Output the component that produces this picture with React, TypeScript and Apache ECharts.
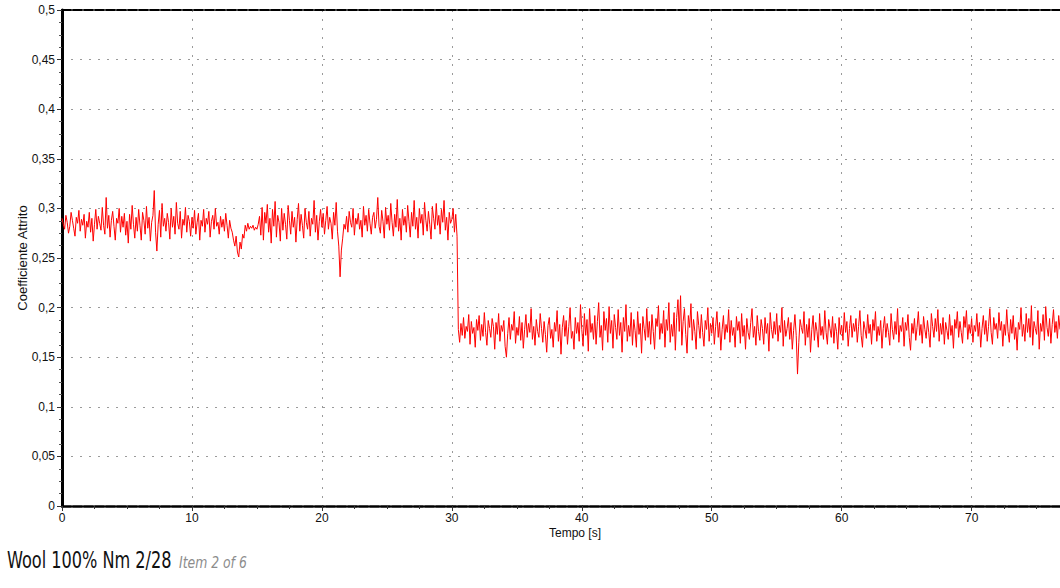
import React, { useEffect, useRef } from "react";
import * as echarts from "echarts";

// sampling step of the recorded signal, seconds
const SAMPLE_STEP = 0.1;

// friction coefficient, first phase (t = 0 .. 30.4 s), one row per second
const PHASE_A: number[] = [
  0.290, 0.284, 0.279, 0.293, 0.286, 0.275, 0.282, 0.296, 0.288, 0.280,
  0.272, 0.291, 0.285, 0.298, 0.277, 0.289, 0.283, 0.294, 0.270, 0.287,
  0.281, 0.296, 0.276, 0.290, 0.267, 0.284, 0.299, 0.279, 0.292, 0.285,
  0.278, 0.301, 0.283, 0.274, 0.311, 0.280, 0.293, 0.271, 0.288, 0.297,
  0.282, 0.268, 0.290, 0.285, 0.300, 0.276, 0.292, 0.281, 0.295, 0.273,
  0.287, 0.265, 0.294, 0.279, 0.303, 0.284, 0.270, 0.291, 0.277, 0.299,
  0.283, 0.268, 0.296, 0.288, 0.274, 0.302, 0.280, 0.291, 0.267, 0.286,
  0.293, 0.318, 0.276, 0.257, 0.284, 0.298, 0.271, 0.305, 0.282, 0.290,
  0.277, 0.295, 0.286, 0.269, 0.300, 0.281, 0.292, 0.274, 0.306, 0.285,
  0.279, 0.297, 0.270, 0.289, 0.283, 0.301, 0.276, 0.293, 0.287, 0.272,
  0.291, 0.280, 0.298, 0.274, 0.286, 0.295, 0.268, 0.288, 0.282, 0.299,
  0.276, 0.290, 0.284, 0.297, 0.271, 0.287, 0.293, 0.279, 0.300, 0.282,
  0.286, 0.274, 0.292, 0.281, 0.289, 0.277, 0.295, 0.283, 0.270, 0.288,
  0.280, 0.276, 0.268, 0.262, 0.272, 0.256, 0.251, 0.266, 0.259, 0.274,
  0.270, 0.283, 0.277, 0.285, 0.279, 0.282, 0.280, 0.283, 0.278, 0.281,
  0.279, 0.284, 0.292, 0.273, 0.301, 0.268, 0.296, 0.285, 0.304, 0.276,
  0.290, 0.265, 0.299, 0.282, 0.307, 0.271, 0.293, 0.286, 0.267, 0.300,
  0.278, 0.295, 0.284, 0.269, 0.303, 0.288, 0.274, 0.297, 0.281, 0.291,
  0.266, 0.289, 0.305, 0.277, 0.294, 0.283, 0.270, 0.300, 0.286, 0.279,
  0.297, 0.272, 0.290, 0.284, 0.308, 0.276, 0.293, 0.268, 0.287, 0.299,
  0.281, 0.295, 0.274, 0.288, 0.302, 0.279, 0.291, 0.285, 0.269, 0.296,
  0.283, 0.306, 0.277, 0.262, 0.231, 0.258, 0.270, 0.284, 0.279, 0.292,
  0.276, 0.297, 0.286, 0.281, 0.300, 0.273, 0.290, 0.284, 0.295, 0.279,
  0.288, 0.271, 0.302, 0.283, 0.293, 0.277, 0.299, 0.285, 0.274, 0.291,
  0.296, 0.280, 0.289, 0.311, 0.282, 0.275, 0.298, 0.287, 0.270, 0.301,
  0.284, 0.293, 0.278, 0.305, 0.286, 0.272, 0.294, 0.281, 0.309, 0.277,
  0.290, 0.268, 0.299, 0.283, 0.292, 0.276, 0.303, 0.287, 0.271, 0.296,
  0.282, 0.308, 0.279, 0.291, 0.270, 0.300, 0.285, 0.294, 0.273, 0.306,
  0.288, 0.277, 0.297, 0.284, 0.269, 0.302, 0.290, 0.279, 0.305, 0.283,
  0.293, 0.274, 0.299, 0.286, 0.308, 0.278, 0.291, 0.268, 0.296, 0.285,
  0.289, 0.300, 0.276, 0.294, 0.272,
];

// friction coefficient, second phase (t = 30.5 .. 76.8 s)
const PHASE_B: number[] = [
  0.178, 0.165, 0.184, 0.172, 0.190,
  0.169, 0.181, 0.176, 0.193, 0.163, 0.186, 0.174, 0.180, 0.160, 0.188,
  0.177, 0.192, 0.167, 0.183, 0.171, 0.195, 0.175, 0.162, 0.187, 0.179,
  0.170, 0.189, 0.181, 0.158, 0.185, 0.173, 0.194, 0.166, 0.182, 0.176,
  0.187, 0.161, 0.150, 0.174, 0.190, 0.168, 0.183, 0.177, 0.196, 0.164,
  0.180, 0.172, 0.191, 0.167, 0.185, 0.159, 0.178, 0.193, 0.170, 0.184,
  0.175, 0.199, 0.168, 0.181, 0.162, 0.188, 0.176, 0.170, 0.194, 0.179,
  0.165, 0.186, 0.173, 0.155, 0.182, 0.190, 0.169, 0.178, 0.160, 0.185,
  0.176, 0.197, 0.166, 0.183, 0.153, 0.180, 0.192, 0.171, 0.187, 0.163,
  0.181, 0.200, 0.169, 0.176, 0.158, 0.190, 0.174, 0.185, 0.166, 0.203,
  0.178, 0.161, 0.194, 0.172, 0.188, 0.156, 0.199, 0.175, 0.184, 0.168,
  0.192, 0.163, 0.186, 0.205, 0.170, 0.182, 0.157, 0.196, 0.177, 0.189,
  0.165, 0.201, 0.174, 0.187, 0.159, 0.193, 0.180, 0.168, 0.198, 0.172,
  0.185, 0.155, 0.190, 0.176, 0.203, 0.166, 0.182, 0.171, 0.195, 0.162,
  0.188, 0.177, 0.160, 0.196, 0.173, 0.184, 0.154, 0.191, 0.179, 0.167,
  0.199, 0.170, 0.186, 0.163, 0.193, 0.176, 0.158, 0.189, 0.181, 0.202,
  0.168, 0.184, 0.174, 0.197, 0.160, 0.188, 0.177, 0.205, 0.165, 0.183,
  0.171, 0.195, 0.157, 0.190, 0.208, 0.176, 0.212, 0.162, 0.186, 0.199,
  0.173, 0.154, 0.192, 0.180, 0.204, 0.167, 0.188, 0.176, 0.158, 0.196,
  0.182, 0.169, 0.193, 0.175, 0.161, 0.187, 0.178, 0.200, 0.166, 0.184,
  0.174, 0.190, 0.163, 0.181, 0.196, 0.170, 0.185, 0.157, 0.178, 0.192,
  0.168, 0.183, 0.175, 0.198, 0.165, 0.187, 0.172, 0.180, 0.160, 0.191,
  0.177, 0.186, 0.164, 0.194, 0.171, 0.182, 0.158, 0.189, 0.175, 0.168,
  0.185, 0.199, 0.170, 0.181, 0.162, 0.192, 0.176, 0.167, 0.188, 0.179,
  0.163, 0.190, 0.174, 0.184, 0.156, 0.195, 0.178, 0.169, 0.186, 0.173,
  0.194, 0.166, 0.182, 0.175, 0.200, 0.161, 0.187, 0.171, 0.179, 0.190,
  0.168, 0.185, 0.158, 0.177, 0.193, 0.172, 0.133, 0.165, 0.188, 0.180,
  0.174, 0.196, 0.162, 0.183, 0.170, 0.189, 0.155, 0.178, 0.192, 0.167,
  0.185, 0.176, 0.160, 0.194, 0.172, 0.181, 0.168, 0.197, 0.175, 0.163,
  0.188, 0.179, 0.170, 0.191, 0.164, 0.184, 0.176, 0.158, 0.190, 0.173,
  0.182, 0.167, 0.195, 0.175, 0.186, 0.161, 0.179, 0.192, 0.170, 0.184,
  0.176, 0.189, 0.165, 0.181, 0.197, 0.172, 0.160, 0.186, 0.178, 0.169,
  0.193, 0.174, 0.183, 0.163, 0.188, 0.177, 0.196, 0.166, 0.181, 0.172,
  0.187, 0.159, 0.179, 0.191, 0.170, 0.184, 0.175, 0.162, 0.194, 0.178,
  0.168, 0.186, 0.173, 0.199, 0.165, 0.182, 0.176, 0.190, 0.161, 0.185,
  0.177, 0.193, 0.170, 0.157, 0.184, 0.174, 0.189, 0.167, 0.180, 0.196,
  0.172, 0.183, 0.164, 0.191, 0.178, 0.169, 0.187, 0.175, 0.160, 0.194,
  0.181, 0.170, 0.189, 0.176, 0.198, 0.166, 0.184, 0.173, 0.190, 0.163,
  0.185, 0.177, 0.168, 0.193, 0.172, 0.182, 0.159, 0.188, 0.179, 0.196,
  0.170, 0.186, 0.175, 0.164, 0.191, 0.180, 0.197, 0.168, 0.183, 0.174,
  0.189, 0.165, 0.182, 0.176, 0.194, 0.171, 0.185, 0.160, 0.179, 0.192,
  0.173, 0.187, 0.166, 0.181, 0.199, 0.175, 0.163, 0.190, 0.178, 0.184,
  0.169, 0.195, 0.177, 0.186, 0.161, 0.183, 0.172, 0.198, 0.176, 0.165,
  0.188, 0.174, 0.192, 0.168, 0.180, 0.157, 0.185, 0.178, 0.200, 0.171,
  0.183, 0.166, 0.194, 0.175, 0.189, 0.170, 0.202, 0.162, 0.186, 0.179,
  0.173, 0.197, 0.158, 0.184, 0.176, 0.193, 0.167, 0.201, 0.180, 0.171,
  0.189, 0.164, 0.183, 0.198, 0.175, 0.186, 0.169, 0.192, 0.178,
];

const X_MIN = 0;
const X_MAX = 76.8;
const X_INTERVAL = 10;
const Y_MIN = 0;
const Y_MAX = 0.5;
const Y_INTERVAL = 0.05;

const X_NAME = "Tempo [s]";
const Y_NAME = "Coefficiente Attrito";
const CAPTION = "Wool 100% Nm 2/28";
const CAPTION_SUB = "Item 2 of 6";

export default function App() {
  const ref = useRef<HTMLDivElement>(null);

  useEffect(() => {
    if (!ref.current) return;
    const chart = echarts.init(ref.current, null, { renderer: "svg" });
    const values = [...PHASE_A, ...PHASE_B];
    const data = values.map((v, i) => [+(i * SAMPLE_STEP).toFixed(2), v]);
    const grey = "#9a9a9a";
    const font = "'Liberation Sans', Arial, sans-serif";

    chart.setOption({
      animation: false,
      backgroundColor: "#ffffff",
      grid: { left: 62, right: 0, top: 10, bottom: 82, containLabel: false },
      xAxis: [
        {
          type: "value",
          min: X_MIN,
          max: X_MAX,
          interval: X_INTERVAL,
          axisLine: {
            show: true,
            onZero: false,
            lineStyle: { color: "#000", width: 2.5, type: [9, 2] },
          },
          axisTick: { show: true, length: 5, lineStyle: { color: "#333", width: 1 } },
          minorTick: { show: true, splitNumber: 4, length: 3, lineStyle: { color: "#333", width: 1 } },
          axisLabel: {
            color: "#111",
            fontSize: 12,
            fontFamily: font,
            margin: 6,
            showMaxLabel: false,
            formatter: (v: number) => String(v),
          },
          splitLine: {
            show: true,
            lineStyle: { color: grey, width: 1, type: [2, 7] },
          },
        },
        {
          type: "value",
          position: "top",
          min: X_MIN,
          max: X_MAX,
          axisLine: {
            show: true,
            onZero: false,
            lineStyle: { color: "#000", width: 2, type: [9, 2] },
          },
          axisTick: { show: false },
          axisLabel: { show: false },
          splitLine: { show: false },
        },
      ],
      yAxis: {
        type: "value",
        min: Y_MIN,
        max: Y_MAX,
        interval: Y_INTERVAL,
        name: Y_NAME,
        nameLocation: "middle",
        nameGap: 33,
        nameMoveOverlap: false,
        nameTextStyle: { color: "#111", fontSize: 13, fontFamily: font },
        axisLine: { show: true, lineStyle: { color: "#000", width: 3 } },
        axisTick: { show: true, length: 5, lineStyle: { color: "#333", width: 1 } },
        minorTick: { show: true, splitNumber: 4, length: 3, lineStyle: { color: "#555", width: 1 } },
        axisLabel: {
          color: "#111",
          fontSize: 12,
          fontFamily: font,
          margin: 7,
          formatter: (v: number) => String(+v.toFixed(2)).replace(".", ","),
        },
        splitLine: {
          show: true,
          lineStyle: { color: grey, width: 1, type: [2, 7] },
        },
      },
      series: [
        {
          type: "line",
          data,
          xAxisIndex: 0,
          showSymbol: false,
          symbol: "none",
          lineStyle: { color: "#ff0000", width: 1 },
          itemStyle: { color: "#ff0000" },
        },
      ],
      graphic: [
        {
          type: "text",
          left: 549,
          top: 527,
          style: { text: X_NAME, fill: "#111", font: `12px ${font}` },
        },
        {
          type: "text",
          x: 7,
          y: 560,
          scaleX: 0.78,
          style: {
            text: CAPTION,
            fill: "#111",
            font: `23px 'DejaVu Sans Condensed', 'DejaVu Sans', sans-serif`,
            verticalAlign: "middle",
          },
        },
        {
          type: "text",
          x: 179,
          y: 563,
          scaleX: 0.92,
          style: {
            text: CAPTION_SUB,
            fill: "#8c8c8c",
            font: `italic 15px 'DejaVu Sans Condensed', 'DejaVu Sans', sans-serif`,
            verticalAlign: "middle",
          },
        },
      ],
    });

    return () => chart.dispose();
  }, []);

  return (
    <div
      ref={ref}
      style={{ position: "fixed", left: 0, top: 0, width: 1060, height: 588, background: "#fff" }}
    />
  );
}
